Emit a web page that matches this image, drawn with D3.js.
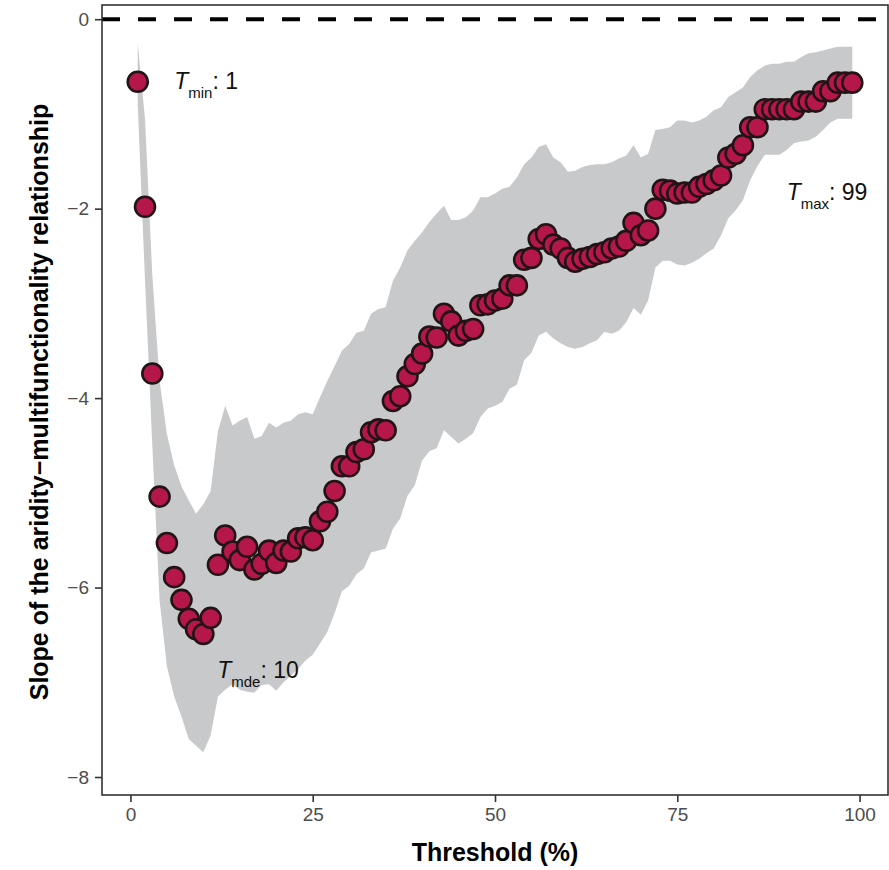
<!DOCTYPE html>
<html>
<head>
<meta charset="utf-8">
<script src="https://cdn.jsdelivr.net/npm/d3@7"></script>
<style>
  body { margin: 0; background: #fff; }
  svg { display: block; font-family: "Liberation Sans", Arial, sans-serif; }
</style>
</head>
<body>
<svg id="chart" width="889" height="870"></svg>
<script>
// Thresholds (%) 1..99
const thresholds = d3.range(1, 100)

// Slope estimates
const slopes = [
  -0.66, -1.98, -3.74, -5.04, -5.53, -5.89, -6.13, -6.33, -6.44, -6.49,
  -6.32, -5.76, -5.45, -5.62, -5.71, -5.57, -5.81, -5.75, -5.61, -5.74,
  -5.61, -5.62, -5.48, -5.47, -5.50, -5.30, -5.20, -4.98, -4.72, -4.72,
  -4.57, -4.54, -4.36, -4.33, -4.34, -4.03, -3.98, -3.77, -3.64, -3.53,
  -3.35, -3.36, -3.11, -3.19, -3.34, -3.29, -3.27, -3.02, -3.01, -2.97,
  -2.95, -2.81, -2.81, -2.54, -2.52, -2.32, -2.27, -2.38, -2.42, -2.52,
  -2.56, -2.53, -2.51, -2.48, -2.46, -2.42, -2.40, -2.34, -2.15, -2.28,
  -2.23, -2.00, -1.80, -1.81, -1.84, -1.83, -1.83, -1.77, -1.74, -1.70,
  -1.65, -1.46, -1.42, -1.33, -1.14, -1.14, -0.95, -0.95, -0.95, -0.95,
  -0.95, -0.87, -0.87, -0.87, -0.76, -0.76, -0.67, -0.67, -0.67
]

// Upper bound of the confidence band
const upper = [
  -0.26, -1.05, -2.70, -3.82, -4.38, -4.71, -4.93, -5.08, -5.22, -5.12,
  -4.98, -4.35, -4.08, -4.29, -4.24, -4.20, -4.43, -4.40, -4.26, -4.31,
  -4.26, -4.24, -4.17, -4.15, -4.17, -3.99, -3.82, -3.66, -3.50, -3.43,
  -3.31, -3.29, -3.11, -3.06, -3.04, -2.76, -2.62, -2.44, -2.34, -2.25,
  -2.14, -2.05, -1.97, -2.12, -2.12, -2.09, -2.02, -1.88, -1.88, -1.84,
  -1.79, -1.77, -1.67, -1.53, -1.46, -1.35, -1.32, -1.46, -1.51, -1.61,
  -1.60, -1.56, -1.54, -1.53, -1.53, -1.51, -1.47, -1.44, -1.33, -1.46,
  -1.42, -1.17, -1.16, -1.14, -1.07, -1.07, -1.09, -1.07, -1.03, -0.96,
  -0.93, -0.82, -0.77, -0.72, -0.61, -0.54, -0.49, -0.47, -0.47, -0.45,
  -0.45, -0.40, -0.36, -0.35, -0.33, -0.31, -0.29, -0.29, -0.29
]

// Lower bound of the confidence band
const lower = [
  -0.90, -2.76, -4.50, -6.14, -6.83, -7.15, -7.36, -7.60, -7.67, -7.74,
  -7.56, -7.15, -7.08, -7.02, -7.08, -7.10, -7.11, -7.03, -7.02, -7.09,
  -7.00, -6.93, -6.86, -6.77, -6.71, -6.59, -6.47, -6.27, -6.04, -5.98,
  -5.86, -5.80, -5.63, -5.61, -5.59, -5.38, -5.27, -5.03, -4.92, -4.66,
  -4.56, -4.53, -4.34, -4.41, -4.48, -4.43, -4.37, -4.20, -4.11, -4.08,
  -4.04, -3.90, -3.86, -3.60, -3.52, -3.34, -3.30, -3.37, -3.42, -3.46,
  -3.48, -3.46, -3.42, -3.39, -3.30, -3.32, -3.29, -3.20, -3.05, -3.12,
  -2.97, -2.62, -2.55, -2.55, -2.59, -2.60, -2.57, -2.53, -2.47, -2.42,
  -2.28, -2.10, -2.02, -1.91, -1.70, -1.55, -1.43, -1.43, -1.43, -1.38,
  -1.31, -1.29, -1.28, -1.24, -1.17, -1.09, -1.05, -1.05, -1.05
]

const xTicks = [0, 25, 50, 75, 100]
const yTicks = [0, -2, -4, -6, -8]

// Threshold annotations: subscript, value text, anchor in data units
const labels = [
  { sub: 'min', text: ': 1', x: 6.0, y: -0.74 },
  { sub: 'mde', text: ': 10', x: 11.9, y: -6.96 },
  { sub: 'max', text: ': 99', x: 90.0, y: -1.91 }
]

const conf = {
  left: 102,
  right: 888,
  top: 5,
  bottom: 795,
  pointRadius: 10,
  pointFill: '#b5174b',
  pointStroke: '#221416',
  ribbonFill: '#c8c9cb'
}

const data = thresholds.map((t, i) => ({ t, slope: slopes[i], lo: lower[i], hi: upper[i] }))

const svg = d3.select('#chart')

const x = d3.scaleLinear().domain([-3.9, 103.9]).range([conf.left, conf.right])
const y = d3.scaleLinear().domain([-8.19, 0.15]).range([conf.bottom, conf.top])

// confidence band
const area = d3.area()
  .x(d => x(d.t))
  .y0(d => y(d.lo))
  .y1(d => y(d.hi))

svg.append('path')
  .datum(data)
  .attr('d', area)
  .attr('fill', conf.ribbonFill)

// zero reference line
svg.append('line')
  .attr('x1', conf.left)
  .attr('x2', conf.right)
  .attr('y1', y(0))
  .attr('y2', y(0))
  .attr('stroke', '#000')
  .attr('stroke-width', 4)
  .attr('stroke-dasharray', '18,18')

// points
svg.append('g')
  .selectAll('circle')
  .data(data)
  .join('circle')
  .attr('cx', d => x(d.t))
  .attr('cy', d => y(d.slope))
  .attr('r', conf.pointRadius)
  .attr('fill', conf.pointFill)
  .attr('stroke', conf.pointStroke)
  .attr('stroke-width', 2.6)

// annotations
labels.forEach(l => {
  const txt = svg.append('text')
    .attr('x', x(l.x))
    .attr('y', y(l.y))
    .attr('font-size', 23)
    .attr('fill', '#111')
  txt.append('tspan').attr('font-style', 'italic').text('T')
  txt.append('tspan').attr('font-size', 15).attr('dy', 9).text(l.sub)
  txt.append('tspan').attr('dy', -9).text(l.text)
})

// panel border
svg.append('rect')
  .attr('x', conf.left)
  .attr('y', conf.top)
  .attr('width', conf.right - conf.left)
  .attr('height', conf.bottom - conf.top)
  .attr('fill', 'none')
  .attr('stroke', '#333')
  .attr('stroke-width', 1.6)

// axes
const xAxis = svg.append('g')
  .attr('transform', `translate(0,${conf.bottom})`)
  .call(d3.axisBottom(x).tickValues(xTicks).tickSize(7).tickPadding(6))
const yAxis = svg.append('g')
  .attr('transform', `translate(${conf.left},0)`)
  .call(d3.axisLeft(y).tickValues(yTicks).tickSize(7).tickPadding(6)
    .tickFormat(d => d < 0 ? '\u2212' + Math.abs(d) : d))

;[xAxis, yAxis].forEach(ax => {
  ax.select('.domain').remove()
  ax.selectAll('.tick line').attr('stroke', '#333').attr('stroke-width', 1.6)
  ax.selectAll('.tick text')
    .attr('fill', '#4d4d4d')
    .attr('font-size', 19)
    .attr('font-family', '"Liberation Sans", Arial, sans-serif')
})

// axis titles
svg.append('text')
  .attr('x', (conf.left + conf.right) / 2)
  .attr('y', 861)
  .attr('text-anchor', 'middle')
  .attr('font-size', 25)
  .attr('font-weight', 'bold')
  .text('Threshold (%)')

svg.append('text')
  .attr('transform', `translate(48,${(conf.top + conf.bottom) / 2 + 2}) rotate(-90)`)
  .attr('text-anchor', 'middle')
  .attr('font-size', 25)
  .attr('font-weight', 'bold')
  .text('Slope of the aridity\u2212multifunctionality relationship')
</script>
</body>
</html>
